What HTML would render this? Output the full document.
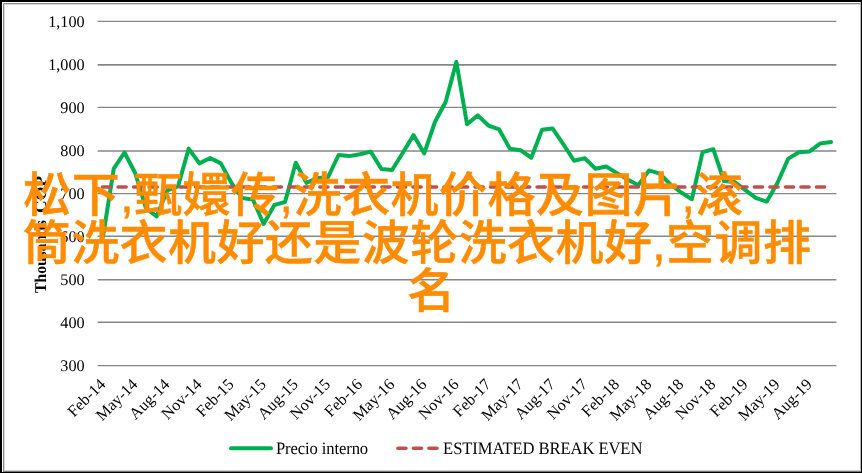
<!DOCTYPE html><html><head><meta charset="utf-8"><style>html,body{margin:0;padding:0;background:#fff}body{width:862px;height:473px;overflow:hidden}svg{display:block}text{font-family:"Liberation Serif",serif;fill:#000;text-rendering:geometricPrecision}</style></head><body>
<svg width="862" height="473" viewBox="0 0 862 473">
<rect x="0" y="0" width="862" height="473" fill="#fff"/>
<rect x="0" y="0" width="862" height="2" fill="#000"/><rect x="0" y="0" width="2" height="473" fill="#000"/>
<rect x="861" y="0" width="1" height="473" fill="#000"/><rect x="860" y="2" width="1" height="471" fill="#b4b4b4"/>
<rect x="0" y="472" width="862" height="1" fill="#000"/><rect x="3" y="471" width="858" height="1" fill="#777"/><rect x="3" y="470" width="858" height="1" fill="#d0d0d0"/>
<path d="M3.5 471V3.5H860" fill="none" stroke="#8a8a8a" stroke-width="1"/><path d="M4.5 471V4.5H860" fill="none" stroke="#d8d8d8" stroke-width="1"/>
<g opacity="0.999">
<line x1="97.7" x2="836.4" y1="365.65" y2="365.65" stroke="#868686" stroke-width="1.4"/>
<text x="84.6" y="371.05" font-size="16.2" text-anchor="end">300</text>
<line x1="97.7" x2="836.4" y1="322.23" y2="322.23" stroke="#868686" stroke-width="1.4"/>
<text x="84.6" y="327.63" font-size="16.2" text-anchor="end">400</text>
<line x1="97.7" x2="836.4" y1="279.76" y2="279.76" stroke="#868686" stroke-width="1.4"/>
<text x="84.6" y="285.16" font-size="16.2" text-anchor="end">500</text>
<line x1="97.7" x2="836.4" y1="236.23" y2="236.23" stroke="#868686" stroke-width="1.4"/>
<text x="84.6" y="241.63" font-size="16.2" text-anchor="end">600</text>
<line x1="97.7" x2="836.4" y1="193.60" y2="193.60" stroke="#868686" stroke-width="1.4"/>
<text x="84.6" y="199.00" font-size="16.2" text-anchor="end">700</text>
<line x1="97.7" x2="836.4" y1="151.05" y2="151.05" stroke="#868686" stroke-width="1.6"/>
<text x="84.6" y="156.45" font-size="16.2" text-anchor="end">800</text>
<line x1="97.7" x2="836.4" y1="107.45" y2="107.45" stroke="#868686" stroke-width="1.3"/>
<text x="84.6" y="112.85" font-size="16.2" text-anchor="end">900</text>
<line x1="97.7" x2="836.4" y1="64.90" y2="64.90" stroke="#868686" stroke-width="1.8"/>
<text x="84.6" y="70.30" font-size="16.2" text-anchor="end">1,000</text>
<line x1="97.7" x2="836.4" y1="21.35" y2="21.35" stroke="#868686" stroke-width="1.3"/>
<text x="84.6" y="26.75" font-size="16.2" text-anchor="end">1,100</text>
<text transform="translate(45.7,292.9) rotate(-90) scale(0.944,1)" font-size="16.5" font-weight="bold">Thousands</text><text transform="translate(45.7,213) rotate(-90) scale(1.06,1)" font-size="16.5" font-weight="bold">COP</text>
<text transform="translate(106.35,385.3) rotate(-45)" font-size="16.2" text-anchor="end">Feb-14</text>
<text transform="translate(138.47,385.3) rotate(-45)" font-size="16.2" text-anchor="end">May-14</text>
<text transform="translate(170.59,385.3) rotate(-45)" font-size="16.2" text-anchor="end">Aug-14</text>
<text transform="translate(202.71,385.3) rotate(-45)" font-size="16.2" text-anchor="end">Nov-14</text>
<text transform="translate(234.82,385.3) rotate(-45)" font-size="16.2" text-anchor="end">Feb-15</text>
<text transform="translate(266.94,385.3) rotate(-45)" font-size="16.2" text-anchor="end">May-15</text>
<text transform="translate(299.06,385.3) rotate(-45)" font-size="16.2" text-anchor="end">Aug-15</text>
<text transform="translate(331.17,385.3) rotate(-45)" font-size="16.2" text-anchor="end">Nov-15</text>
<text transform="translate(363.29,385.3) rotate(-45)" font-size="16.2" text-anchor="end">Feb-16</text>
<text transform="translate(395.41,385.3) rotate(-45)" font-size="16.2" text-anchor="end">May-16</text>
<text transform="translate(427.53,385.3) rotate(-45)" font-size="16.2" text-anchor="end">Aug-16</text>
<text transform="translate(459.64,385.3) rotate(-45)" font-size="16.2" text-anchor="end">Nov-16</text>
<text transform="translate(491.76,385.3) rotate(-45)" font-size="16.2" text-anchor="end">Feb-17</text>
<text transform="translate(523.88,385.3) rotate(-45)" font-size="16.2" text-anchor="end">May-17</text>
<text transform="translate(556.00,385.3) rotate(-45)" font-size="16.2" text-anchor="end">Aug-17</text>
<text transform="translate(588.11,385.3) rotate(-45)" font-size="16.2" text-anchor="end">Nov-17</text>
<text transform="translate(620.23,385.3) rotate(-45)" font-size="16.2" text-anchor="end">Feb-18</text>
<text transform="translate(652.35,385.3) rotate(-45)" font-size="16.2" text-anchor="end">May-18</text>
<text transform="translate(684.47,385.3) rotate(-45)" font-size="16.2" text-anchor="end">Aug-18</text>
<text transform="translate(716.58,385.3) rotate(-45)" font-size="16.2" text-anchor="end">Nov-18</text>
<text transform="translate(748.70,385.3) rotate(-45)" font-size="16.2" text-anchor="end">Feb-19</text>
<text transform="translate(780.82,385.3) rotate(-45)" font-size="16.2" text-anchor="end">May-19</text>
<text transform="translate(812.94,385.3) rotate(-45)" font-size="16.2" text-anchor="end">Aug-19</text>
<text transform="translate(276,453.5) scale(0.955,1)" font-size="17.4" letter-spacing="-0.12">Precio interno</text>
<text transform="translate(443.1,453.5) scale(0.955,1)" font-size="17.4" letter-spacing="-0.10">ESTIMATED BREAK EVEN</text>
</g>
<polyline points="103.05,236.50 113.76,168.60 124.46,152.50 135.17,173.00 145.88,208.00 156.58,216.50 167.29,190.50 177.99,186.50 188.70,148.60 199.41,163.40 210.11,158.00 220.82,163.40 231.52,183.00 242.23,198.00 252.93,199.50 263.64,224.00 274.35,205.00 285.05,202.00 295.76,162.80 306.46,182.90 317.17,178.00 327.87,177.50 338.58,155.00 349.29,156.10 359.99,154.20 370.70,151.60 381.40,169.00 392.11,170.00 402.82,152.70 413.52,135.10 424.23,153.40 434.93,122.00 445.64,102.00 456.34,61.90 467.05,124.25 477.76,115.35 488.46,125.55 499.17,129.45 509.87,148.65 520.58,150.15 531.28,157.75 541.99,129.85 552.70,128.55 563.40,144.45 574.11,160.75 584.81,158.15 595.52,168.75 606.23,166.45 616.93,173.15 627.64,179.45 638.34,185.15 649.05,170.40 659.75,173.60 670.46,184.50 681.17,192.50 691.87,199.20 702.58,152.10 713.28,149.20 723.99,181.00 734.69,182.00 745.40,190.20 756.11,198.20 766.81,201.60 777.52,182.70 788.22,158.60 798.93,152.30 809.64,151.40 820.34,143.40 831.05,142.10" fill="none" stroke="#00B050" stroke-width="4" stroke-linejoin="round" stroke-linecap="round"/>
<line x1="102.55" x2="831.05" y1="187.05" y2="187.05" stroke="#C0504D" stroke-width="3.6" stroke-dasharray="8.1 7.42" stroke-linecap="round"/>
<line x1="231" x2="271" y1="448.3" y2="448.3" stroke="#00B050" stroke-width="4" stroke-linecap="round"/>
<line x1="397.9" x2="437.1" y1="448.25" y2="448.25" stroke="#C0504D" stroke-width="3.6" stroke-dasharray="8.1 7.42" stroke-linecap="round"/>
<desc>松下,甄嬛传,洗衣机价格及图片,滚筒洗衣机好还是波轮洗衣机好,空调排名</desc>
<g style="fill:#FF8C00;stroke:#FF8C00;stroke-width:0.53;stroke-linejoin:miter;font-family:'Liberation Sans','Noto Sans CJK SC',sans-serif;font-weight:500">
<text x="23.2" y="212" font-size="48" textLength="720.1" lengthAdjust="spacing" style="fill:#FF8C00;font-family:'Liberation Sans','Noto Sans CJK SC',sans-serif">松下,甄嬛传,洗衣机价格及图片,滚</text>
<text x="22.7" y="259.9" font-size="48" textLength="788.3" lengthAdjust="spacing" style="fill:#FF8C00;font-family:'Liberation Sans','Noto Sans CJK SC',sans-serif">筒洗衣机好还是波轮洗衣机好,空调排</text>
<text x="407.3" y="308.4" font-size="48" style="fill:#FF8C00;font-family:'Liberation Sans','Noto Sans CJK SC',sans-serif">名</text>
</g>
</svg></body></html>
